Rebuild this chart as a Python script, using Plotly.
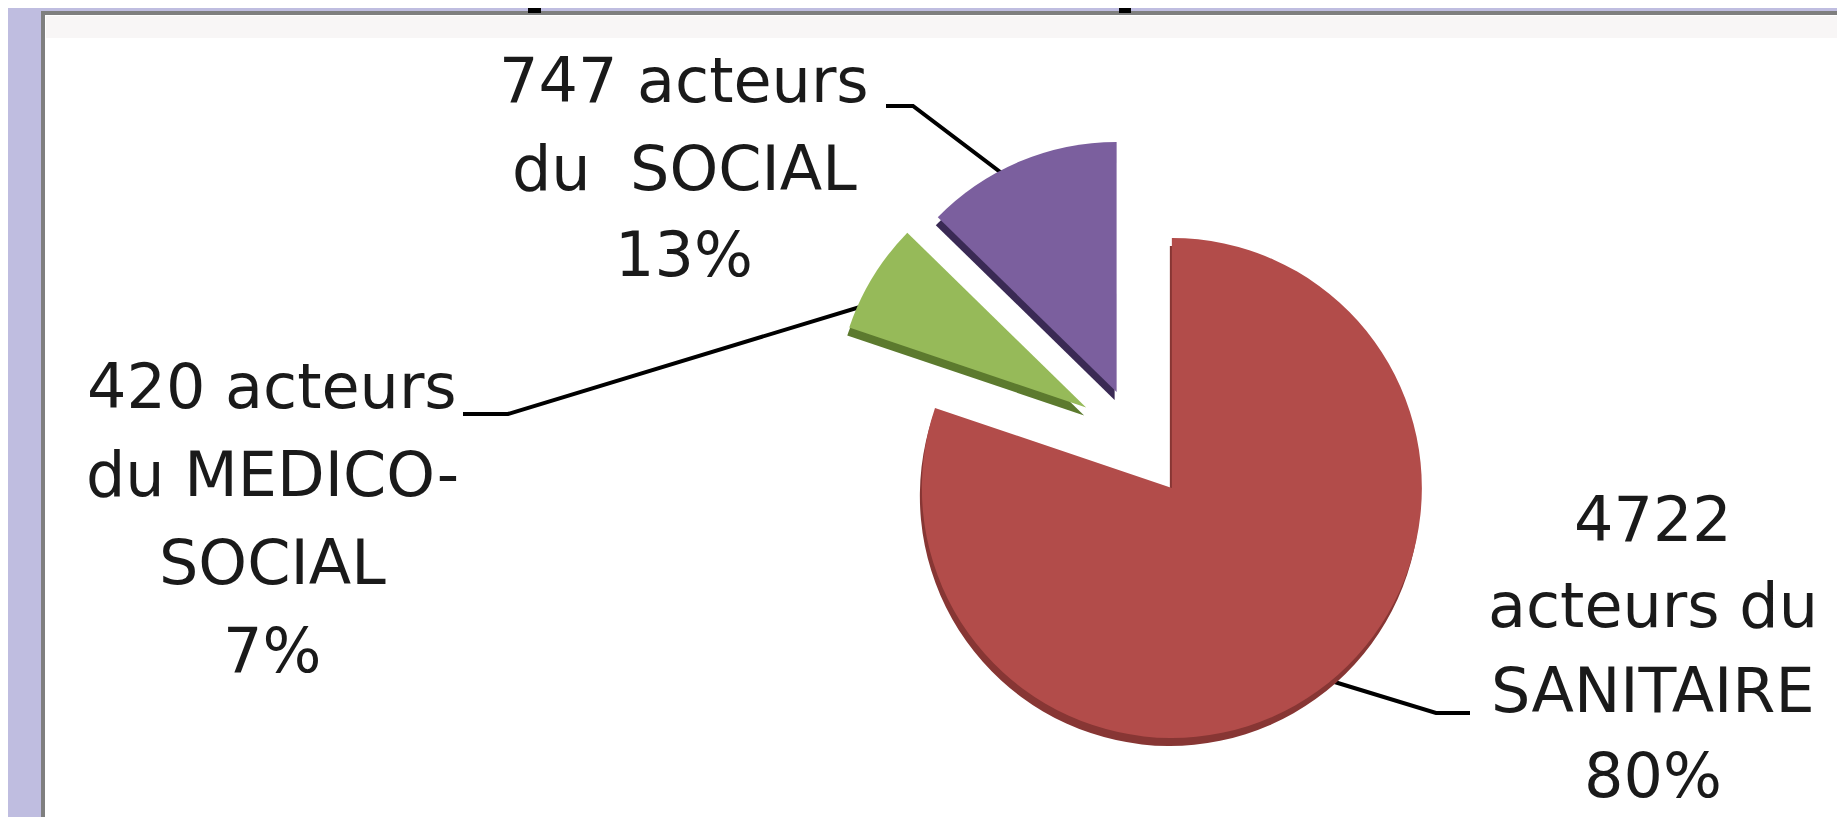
import plotly.graph_objects as go

# ---- data ----
sectors = ["SANITAIRE", "MEDICO-SOCIAL", "SOCIAL"]
acteurs = [4722, 420, 747]
colors = ["#B24C4A", "#96BA59", "#7B5F9E"]
side_colors = ["#873634", "#5C7A2E", "#3A2A54"]
pulls = [0.246, 0.234, 0.2]

W, H = 1845, 817


def px(x):
    return x / W


def py(y):
    return 1 - y / H


total = sum(acteurs)
pcts = [round(v * 100 / total) for v in acteurs]

label_lines = [
    [f"{acteurs[0]}", "acteurs du", sectors[0], f"{pcts[0]}%"],
    [f"{acteurs[1]} acteurs", "du MEDICO-", "SOCIAL", f"{pcts[1]}%"],
    [f"{acteurs[2]} acteurs", f"du\u00a0 {sectors[2]}", f"{pcts[2]}%"],
]
# (x centre, y of first line, line spacing) in pixels
label_pos = [(1645, 512, 85), (264, 378, 88), (676, 73, 87)]

# pie placement (pixels)
cx, cy, r = 1128, 430, 250
half = r * (1 + max(pulls))
shadow = 8
dom_x = [px(cx - half), px(cx + half)]
dom_y = [py(cy + half), py(cy - half)]
dom_x_sh = [px(cx - half - 2), px(cx + half - 2)]
dom_y_sh = [py(cy + half + shadow), py(cy - half + shadow)]

fig = go.Figure()
fig.add_trace(go.Pie(
    values=acteurs, labels=sectors, sort=False, direction="clockwise",
    rotation=0, pull=pulls,
    marker=dict(colors=side_colors, line=dict(width=0)),
    textinfo="none", hoverinfo="skip", showlegend=False,
    domain=dict(x=dom_x_sh, y=dom_y_sh),
))
fig.add_trace(go.Pie(
    values=acteurs, labels=sectors, sort=False, direction="clockwise",
    rotation=0, pull=pulls,
    marker=dict(colors=colors, line=dict(width=0)),
    textinfo="none", hoverinfo="label+value+percent", showlegend=False,
    domain=dict(x=dom_x, y=dom_y),
))


def path(points):
    return "M " + " L ".join(f"{px(x):.5f},{py(y):.5f}" for x, y in points)


shapes = [
    # white panel with grey frame
    dict(type="rect", xref="paper", yref="paper", x0=px(35), x1=px(1900),
         y0=py(900), y1=py(5), fillcolor="white",
         line=dict(color="#7F7F7F", width=4), layer="below"),
    dict(type="rect", xref="paper", yref="paper", x0=px(38), x1=px(1900),
         y0=py(30), y1=py(8), fillcolor="#F8F6F6", line=dict(width=0),
         layer="below"),
    # bits of the cut-off title
    dict(type="rect", xref="paper", yref="paper", x0=px(520), x1=px(533),
         y0=py(5), y1=py(-5), fillcolor="black", line=dict(width=0),
         layer="below"),
    dict(type="rect", xref="paper", yref="paper", x0=px(1111), x1=px(1123),
         y0=py(5), y1=py(-5), fillcolor="black", line=dict(width=0),
         layer="below"),
    # leader lines
    dict(type="path", xref="paper", yref="paper",
         path=path([(878, 98), (905, 98), (1020, 185)]),
         line=dict(color="black", width=4), layer="below"),
    dict(type="path", xref="paper", yref="paper",
         path=path([(455, 406), (500, 406), (875, 292)]),
         line=dict(color="black", width=4), layer="below"),
    dict(type="path", xref="paper", yref="paper",
         path=path([(1320, 672), (1428, 705), (1462, 705)]),
         line=dict(color="black", width=4), layer="below"),
]

annotations = []
for lines, (x, y0, dy) in zip(label_lines, label_pos):
    for i, t in enumerate(lines):
        annotations.append(dict(
            text=t, x=px(x), y=py(y0 + i * dy), xref="paper", yref="paper",
            xanchor="center", yanchor="middle", showarrow=False,
            font=dict(family="DejaVu Sans", size=62, color="#1A1A1A")))

fig.update_layout(
    width=W, height=H,
    margin=dict(l=0, r=0, t=0, b=0),
    paper_bgcolor="#BFBDE0",
    plot_bgcolor="white",
    shapes=shapes,
    annotations=annotations,
    showlegend=False,
)

fig.write_html("out.html")
